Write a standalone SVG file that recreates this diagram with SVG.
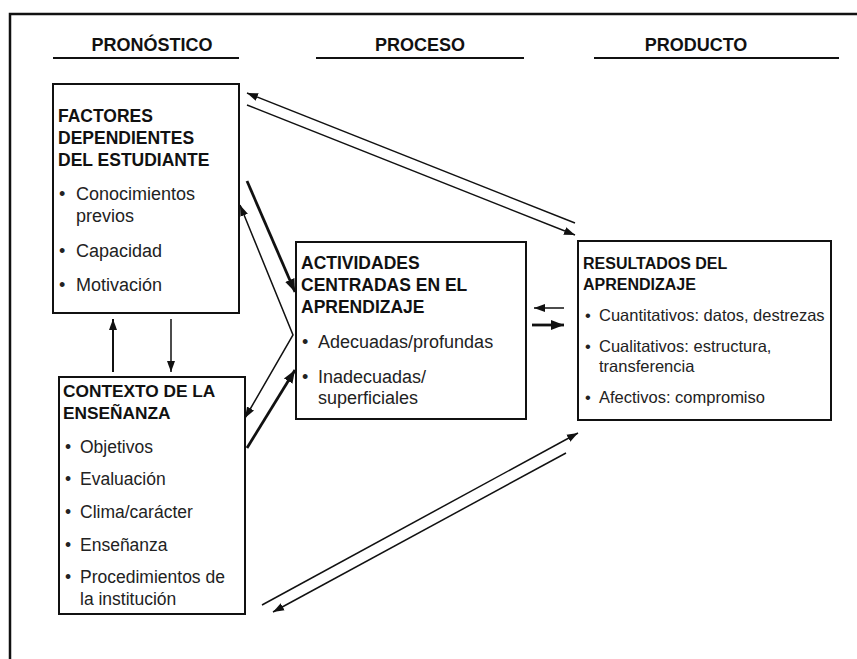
<svg xmlns="http://www.w3.org/2000/svg" width="857" height="659" viewBox="0 0 857 659">
<defs>
<style>
.hdr{font-family:"Liberation Sans",Arial,sans-serif;font-weight:bold;font-size:18px;fill:#111;text-anchor:middle}
.b{font-family:"Liberation Sans",Arial,sans-serif;font-weight:bold;fill:#111}
.t{font-family:"Liberation Sans",Arial,sans-serif;fill:#222}
.box{fill:#fff;stroke:#111;stroke-width:2}
.ul{stroke:#111;stroke-width:2}
.thin{stroke:#111;stroke-width:1.5;fill:none;marker-end:url(#ah)}
.thick{stroke:#111;stroke-width:2.8;fill:none;marker-end:url(#ahb)}
</style>
<marker id="ah" markerUnits="userSpaceOnUse" markerWidth="12" markerHeight="10" viewBox="0 0 12 10" refX="11" refY="5" orient="auto-start-reverse"><path d="M0,1 L11,5 L0,9 Z" fill="#111"/></marker>
<marker id="ahb" markerUnits="userSpaceOnUse" markerWidth="14" markerHeight="12" viewBox="0 0 14 12" refX="13" refY="6" orient="auto"><path d="M0,1 L13,6 L0,11 Z" fill="#111"/></marker>
</defs>
<rect width="857" height="659" fill="#fff"/>
<path d="M10,659 V14 H857" fill="none" stroke="#111" stroke-width="2.5"/>
<g id="headers">
<text class="hdr" x="152" y="51">PRONÓSTICO</text>
<line class="ul" x1="53" y1="58" x2="239" y2="58"/>
<text class="hdr" x="420" y="51">PROCESO</text>
<line class="ul" x1="316" y1="58" x2="524" y2="58"/>
<text class="hdr" x="696" y="51">PRODUCTO</text>
<line class="ul" x1="594" y1="58" x2="839" y2="58"/>
</g>
<g id="factores">
<rect class="box" x="53" y="84" width="186" height="229"/>
<g class="b" font-size="17.5">
<text x="58" y="122">FACTORES</text>
<text x="58" y="144">DEPENDIENTES</text>
<text x="58" y="166">DEL ESTUDIANTE</text>
</g>
<g class="t" font-size="18">
<text x="59" y="200">•</text><text x="76" y="200">Conocimientos</text>
<text x="76" y="222">previos</text>
<text x="59" y="257">•</text><text x="76" y="257">Capacidad</text>
<text x="59" y="291">•</text><text x="76" y="291">Motivación</text>
</g>
</g>
<g id="actividades">
<rect class="box" x="296" y="242" width="230" height="177"/>
<g class="b" font-size="17.5">
<text x="301" y="269">ACTIVIDADES</text>
<text x="301" y="291">CENTRADAS EN EL</text>
<text x="301" y="313">APRENDIZAJE</text>
</g>
<g class="t" font-size="18">
<text x="302" y="348">•</text><text x="318" y="348">Adecuadas/profundas</text>
<text x="302" y="383">•</text><text x="318" y="383">Inadecuadas/</text>
<text x="318" y="404">superficiales</text>
</g>
</g>
<g id="resultados">
<rect class="box" x="578" y="241" width="253" height="179"/>
<g class="b" font-size="16">
<text x="583" y="269">RESULTADOS DEL</text>
<text x="583" y="290">APRENDIZAJE</text>
</g>
<g class="t" font-size="16.5">
<text x="585" y="321">•</text><text x="599" y="321">Cuantitativos: datos, destrezas</text>
<text x="585" y="352">•</text><text x="599" y="352">Cualitativos: estructura,</text>
<text x="599" y="372">transferencia</text>
<text x="585" y="403">•</text><text x="599" y="403">Afectivos: compromiso</text>
</g>
</g>
<g id="contexto">
<rect class="box" x="59" y="377" width="186" height="237"/>
<g class="b" font-size="17.3">
<text x="63" y="397">CONTEXTO DE LA</text>
<text x="63" y="419">ENSEÑANZA</text>
</g>
<g class="t" font-size="17.5">
<text x="65" y="453">•</text><text x="80" y="453">Objetivos</text>
<text x="65" y="485">•</text><text x="80" y="485">Evaluación</text>
<text x="65" y="518">•</text><text x="80" y="518">Clima/carácter</text>
<text x="65" y="551">•</text><text x="80" y="551">Enseñanza</text>
<text x="65" y="583">•</text><text x="80" y="583">Procedimientos de</text>
<text x="80" y="605">la institución</text>
</g>
</g>
<g id="connectors">
<line class="thin" x1="575" y1="223" x2="247" y2="93"/>
<line class="thin" x1="247" y1="105" x2="575" y2="235"/>
<line class="thick" x1="247" y1="181" x2="295" y2="292"/>
<polyline class="thin" points="240,205 293,335 245,418" style="marker-start:url(#ah)"/>
<line class="thick" x1="247" y1="448" x2="295" y2="370"/>
<line class="thin" x1="564" y1="308" x2="534" y2="308"/>
<line class="thick" x1="532" y1="325" x2="564" y2="325"/>
<line class="thin" x1="113" y1="372" x2="113" y2="319" style="stroke-width:2"/>
<line class="thin" x1="171" y1="319" x2="171" y2="372"/>
<line class="thin" x1="262" y1="605" x2="578" y2="433"/>
<line class="thin" x1="566" y1="453" x2="273" y2="612"/>
</g>
</svg>
